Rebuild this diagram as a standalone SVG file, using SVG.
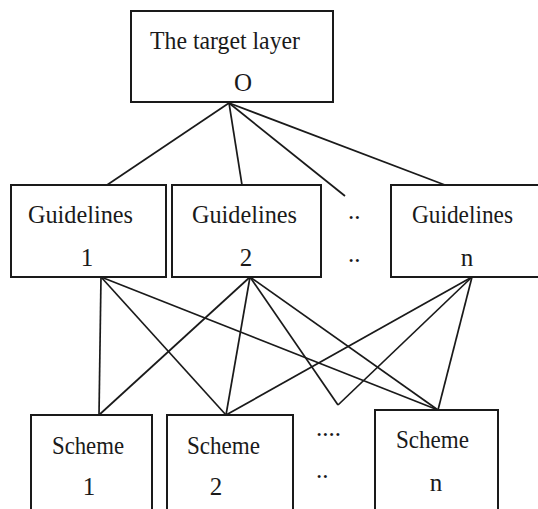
<svg xmlns="http://www.w3.org/2000/svg" width="538" height="509" viewBox="0 0 538 509">
<style>
.box{fill:#fff;stroke:#1a1a1a;stroke-width:2}
.ln{stroke:#1a1a1a;stroke-width:1.7;fill:none}
text{font-family:"Liberation Serif","Times New Roman",serif;fill:#1a1a1a;font-size:25px}
.c{text-anchor:middle}
</style>
<rect width="538" height="509" fill="#fff"/>
<g id="connectors">
<line class="ln" x1="229" y1="103" x2="107" y2="185"/>
<line class="ln" x1="229" y1="103" x2="242" y2="185"/>
<line class="ln" x1="229" y1="103" x2="345" y2="196"/>
<line class="ln" x1="229" y1="103" x2="445" y2="185"/>
<line class="ln" x1="101" y1="277" x2="99" y2="415"/>
<line class="ln" x1="101" y1="277" x2="226" y2="415"/>
<line class="ln" x1="101" y1="277" x2="438" y2="410"/>
<line class="ln" x1="250" y1="277" x2="99" y2="415"/>
<line class="ln" x1="250" y1="277" x2="226" y2="415"/>
<line class="ln" x1="250" y1="277" x2="338" y2="405"/>
<line class="ln" x1="250" y1="277" x2="438" y2="410"/>
<line class="ln" x1="472" y1="277" x2="226" y2="415"/>
<line class="ln" x1="472" y1="277" x2="338" y2="405"/>
<line class="ln" x1="472" y1="277" x2="438" y2="410"/>
</g>
<g id="target">
<rect class="box" x="131" y="11" width="202" height="91"/>
<text x="150" y="49" textLength="150" lengthAdjust="spacingAndGlyphs">The target layer</text>
<text class="c" x="243" y="91">O</text>
</g>
<g id="guidelines1">
<rect class="box" x="11" y="185" width="155" height="92"/>
<text x="28" y="223" textLength="105" lengthAdjust="spacingAndGlyphs">Guidelines</text>
<text class="c" x="87" y="266">1</text>
</g>
<g id="guidelines2">
<rect class="box" x="172" y="185" width="149" height="92"/>
<text x="192" y="223" textLength="105" lengthAdjust="spacingAndGlyphs">Guidelines</text>
<text class="c" x="246" y="266">2</text>
</g>
<g id="guidelines-dots">
<text x="348" y="219">..</text>
<text x="348" y="262">..</text>
</g>
<g id="guidelinesn">
<rect class="box" x="391" y="185" width="160" height="92"/>
<text x="412" y="223" textLength="101" lengthAdjust="spacingAndGlyphs">Guidelines</text>
<text class="c" x="467" y="266">n</text>
</g>
<g id="scheme1">
<rect class="box" x="31" y="415" width="121" height="110"/>
<text x="52" y="454" textLength="72" lengthAdjust="spacingAndGlyphs">Scheme</text>
<text class="c" x="89" y="495">1</text>
</g>
<g id="scheme2">
<rect class="box" x="167" y="415" width="126" height="110"/>
<text x="187" y="454" textLength="73" lengthAdjust="spacingAndGlyphs">Scheme</text>
<text class="c" x="216" y="495">2</text>
</g>
<g id="scheme-dots">
<text x="316" y="436">....</text>
<text x="316" y="478">..</text>
</g>
<g id="schemen">
<rect class="box" x="375" y="410" width="123" height="110"/>
<text x="396" y="448" textLength="73" lengthAdjust="spacingAndGlyphs">Scheme</text>
<text class="c" x="436" y="491">n</text>
</g>
</svg>
